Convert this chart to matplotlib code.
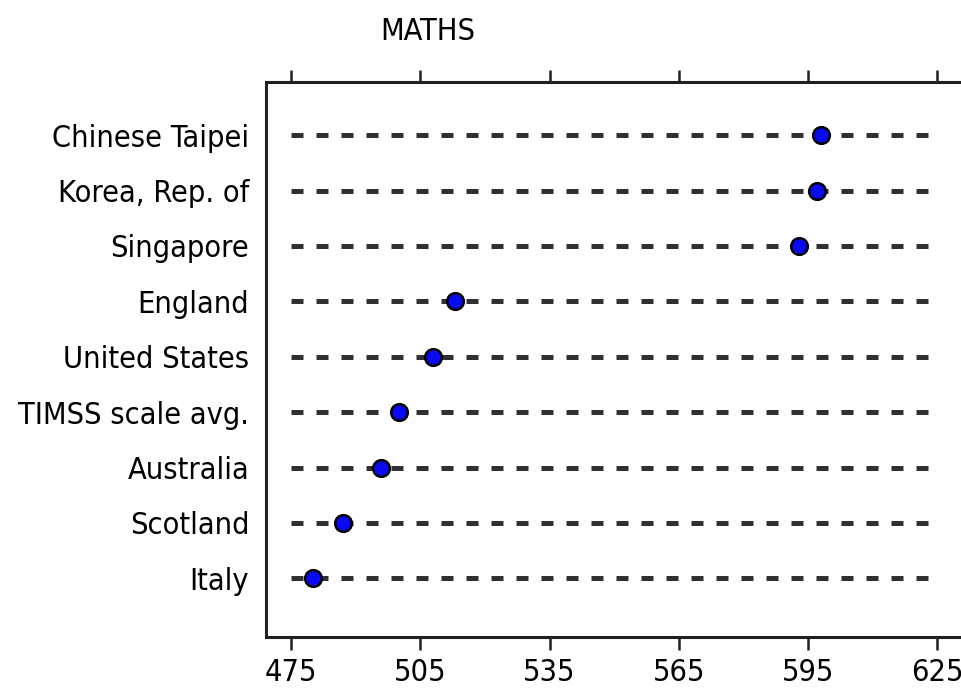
import matplotlib
matplotlib.use("Agg")
import matplotlib.pyplot as plt
from matplotlib import font_manager

countries = ["Chinese Taipei", "Korea, Rep. of", "Singapore", "England", "United States",
             "TIMSS scale avg.", "Australia", "Scotland", "Italy"]
scores = [598, 597, 593, 513, 508, 500, 496, 487, 480]
xticks = [475, 505, 535, 565, 595, 625]
title = "MATHS"

condensed = any(f.name == "DejaVu Sans" and str(f.stretch) in ("condensed", "semi-condensed")
                for f in font_manager.fontManager.ttflist)
plt.rcParams['font.family'] = ['DejaVu Sans']
if condensed:
    plt.rcParams['font.stretch'] = 'condensed'
    fs = 22
else:
    fs = 20

W, H = 962, 692
fig = plt.figure(figsize=(W / 100, H / 100), dpi=100)
left, right, top, bottom = 266, 964, 82, 637
ax = fig.add_axes([left / W, 1 - bottom / H, (right - left) / W, (bottom - top) / H])

ypos = list(range(len(countries)))
for y in ypos:
    ax.plot([xticks[0], xticks[-1]], [y, y], color="#303030", lw=3.6,
            linestyle=(0, (2.4, 2.6)), zorder=1, dash_capstyle='butt')
ax.plot(scores, ypos, linestyle="none", marker="o", markersize=12,
        markerfacecolor="#0a0af0", markeredgecolor="black", markeredgewidth=1.8, zorder=3)

ax.set_xlim(469.2, 631.2)
ax.set_ylim(len(countries) - 1 + 1.06, -0.96)
ax.set_xticks(xticks)
ax.set_xticklabels([str(t) for t in xticks], fontsize=fs)
ax.set_yticks(ypos)
ax.set_yticklabels(countries, fontsize=fs)
ax.tick_params(axis='x', which='both', top=True, bottom=True, direction='out',
               length=9, width=1.8, color="#202020", pad=6)
ax.tick_params(axis='y', length=0, pad=12)
for s in ax.spines.values():
    s.set_linewidth(2.2)
    s.set_color("#202020")

fig.text(428 / W, 1 - 32 / H, title, ha="center", va="center", fontsize=fs)

fig.savefig("out.png", dpi=100)
